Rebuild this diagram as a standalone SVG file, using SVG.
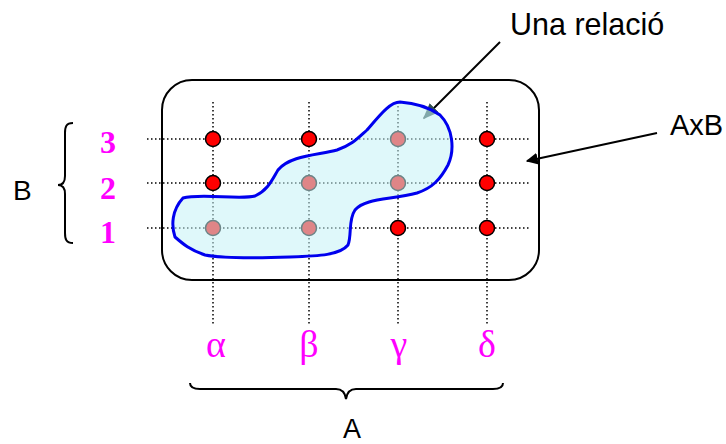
<svg xmlns="http://www.w3.org/2000/svg" width="726" height="444" viewBox="0 0 726 444">
<defs>
<style>
.grid{stroke:#000;stroke-width:1.5;stroke-dasharray:1.5 2.5;fill:none}
.dot{fill:#ff0000;stroke:#000;stroke-width:1.5}
.lbl{font-family:"Liberation Sans",Arial,sans-serif;fill:#000}
.num{font-family:"Liberation Serif","Times New Roman",serif;font-weight:bold;fill:#ff00ff;font-size:32px;text-anchor:middle}
.gr{font-family:"Liberation Serif","Times New Roman",serif;fill:#ff00ff;font-size:38px;text-anchor:middle}
.brace{fill:none;stroke:#000;stroke-width:2}
.arr{stroke:#000;stroke-width:2;fill:none}
</style>
<marker id="ah" viewBox="0 0 10 10" refX="9" refY="5" markerWidth="12" markerHeight="12" markerUnits="userSpaceOnUse" orient="auto">
<path d="M0,0 L10,5 L0,10 z" fill="#000"/>
</marker>
<marker id="ah2" viewBox="0 0 10 10" refX="9" refY="5" markerWidth="16" markerHeight="16" markerUnits="userSpaceOnUse" orient="auto">
<path d="M0,1 L10,5 L0,9 z" fill="#2f4f4f"/>
</marker>
</defs>
<g id="axb-box"><rect x="162" y="80" width="377" height="200" rx="30" ry="30" fill="#fff" stroke="#000" stroke-width="2"/></g>
<g id="grid">
<line class="grid" x1="147" y1="139" x2="530" y2="139"/>
<line class="grid" x1="147" y1="183" x2="530" y2="183"/>
<line class="grid" x1="147" y1="228" x2="530" y2="228"/>
<line class="grid" x1="213" y1="102" x2="213" y2="324"/>
<line class="grid" x1="309" y1="102" x2="309" y2="324"/>
<line class="grid" x1="398" y1="102" x2="398" y2="324"/>
<line class="grid" x1="487" y1="102" x2="487" y2="324"/>
</g>
<g id="points">
<circle class="dot" cx="213" cy="139" r="7.5"/><circle class="dot" cx="309" cy="139" r="7.5"/><circle class="dot" cx="398" cy="139" r="7.5"/><circle class="dot" cx="487" cy="139" r="7.5"/>
<circle class="dot" cx="213" cy="183" r="7.5"/><circle class="dot" cx="309" cy="183" r="7.5"/><circle class="dot" cx="398" cy="183" r="7.5"/><circle class="dot" cx="487" cy="183" r="7.5"/>
<circle class="dot" cx="213" cy="228" r="7.5"/><circle class="dot" cx="309" cy="228" r="7.5"/><circle class="dot" cx="398" cy="228" r="7.5"/><circle class="dot" cx="487" cy="228" r="7.5"/>
</g>
<g id="connectors">
<line class="arr" x1="500" y1="42" x2="424" y2="118" marker-end="url(#ah2)"/>
<line class="arr" x1="657" y1="133" x2="527" y2="161" marker-end="url(#ah)"/>
</g>
<g id="relation">
<path d="M175,237 C171,225 172,210 183,198 C200,193 240,200 255,196 C268,190 272,180 278,170 C290,155 320,155 337,150 C352,145 358,138 367,130 C380,115 390,102 400,102 C415,103 430,108 440,115 C453,128 455,150 448,165 C440,180 432,188 417,193 C390,200 365,198 355,210 C348,220 352,235 348,245 C340,255 320,256 290,257 C260,258 225,259 205,255 C190,250 183,244 175,237 Z" fill="#c4f3f6" fill-opacity="0.55" stroke="#0000ee" stroke-width="3"/>
</g>
<g id="label-relacio"><text class="lbl" x="510" y="35" font-size="30.5">Una relació</text></g>
<g id="label-axb"><text class="lbl" x="670" y="135" font-size="29">AxB</text></g>
<g id="set-b">
<text class="lbl" x="13" y="200" font-size="28">B</text>
<path class="brace" d="M73,123 C66,123 65,127 65,133 L65,176 C65,182 63,185 58,185 C63,185 65,188 65,194 L65,233 C65,239 66,243 73,243"/>
<text class="num" x="108" y="153">3</text>
<text class="num" x="108" y="199">2</text>
<text class="num" x="108" y="243">1</text>
</g>
<g id="set-a">
<text class="gr" x="216" y="357">α</text>
<text class="gr" x="309" y="357">β</text>
<text class="gr" x="399" y="357">γ</text>
<text class="gr" x="487" y="357">δ</text>
<path class="brace" d="M190,383 C190,388 194,389 200,389 L336,389 C342,389 345,392 346,399 C347,392 350,389 356,389 L493,389 C499,389 503,388 503,383"/>
<text class="lbl" x="352" y="438" font-size="27" text-anchor="middle">A</text>
</g>
</svg>
